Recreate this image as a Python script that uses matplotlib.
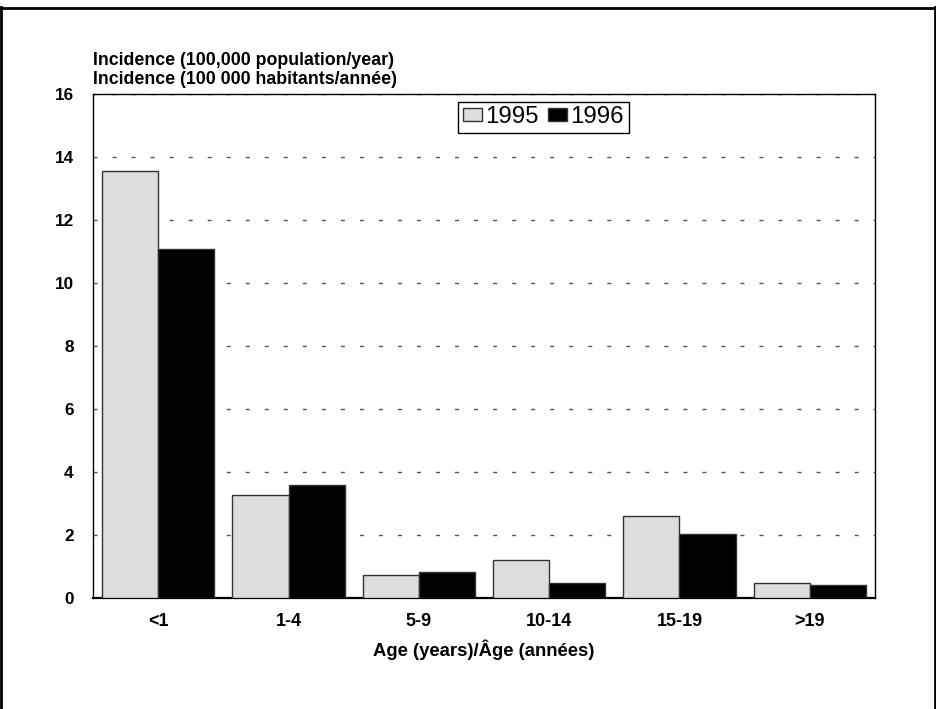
import numpy as np
import matplotlib
matplotlib.use('Agg')
import matplotlib.pyplot as plt
from matplotlib.lines import Line2D

plt.rcParams['font.family'] = ['Liberation Sans', 'DejaVu Sans']

# data
ages = ['<1', '1-4', '5-9', '10-14', '15-19', '>19']
inc_1995 = [13.55, 3.27, 0.73, 1.22, 2.59, 0.47]
inc_1996 = [11.06, 3.58, 0.82, 0.49, 2.03, 0.41]
y_ticks = [0, 2, 4, 6, 8, 10, 12, 14, 16]

fig = plt.figure(figsize=(9.37, 7.09), dpi=100)
ax = fig.add_axes([0.0993, 0.1566, 0.8345, 0.7115])

x = np.arange(len(ages))
w = 0.43
ax.bar(x - w / 2, inc_1995, w, color='#dddddd', edgecolor='#333333', linewidth=1, label='1995', zorder=3)
ax.bar(x + w / 2, inc_1996, w, color='black', edgecolor='#333333', linewidth=1, label='1996', zorder=3)

ax.set_xlim(-0.5, len(ages) - 0.5)
ax.set_ylim(0, 16)
ax.set_yticks(y_ticks)
ax.set_xticks(x)
ax.set_xticklabels(ages)
ax.tick_params(axis='both', length=0)
ax.tick_params(axis='y', pad=14, labelsize=12.3)
ax.tick_params(axis='x', pad=11, labelsize=13)
for lab in ax.get_xticklabels() + ax.get_yticklabels():
    lab.set_fontweight('bold')

ax.yaxis.grid(True, color='#555555', linewidth=1, linestyle=(0, (2.9, 10.8)), zorder=0)
ax.set_axisbelow(True)
for s in ax.spines.values():
    s.set_linewidth(1)
ax.spines['bottom'].set_linewidth(1.6)

ax.set_xlabel('Age (years)/Âge (années)', fontsize=13.3, fontweight='bold', labelpad=7)
fig.text(0.0993, 1 - 87.5 / 709, 'Incidence (100,000 population/year)\nIncidence (100 000 habitants/année)',
         fontsize=12.8, fontweight='bold', ha='left', va='bottom', linespacing=1.15)

leg = ax.legend(loc='upper center', bbox_to_anchor=(0.576, 0.984), ncol=2, fontsize=17.3,
                frameon=True, fancybox=False, framealpha=1, edgecolor='black',
                handlelength=0.8, handleheight=0.45, handletextpad=0.12, columnspacing=0.4,
                borderpad=0.2, borderaxespad=0)
leg.get_frame().set_linewidth(1)

# frame around the figure
fig.add_artist(Line2D([0, 1], [0.9894, 0.9894], transform=fig.transFigure, color='black', lw=2))
fig.add_artist(Line2D([0.0015, 0.0015], [0, 0.99], transform=fig.transFigure, color='black', lw=2))
fig.add_artist(Line2D([0.998, 0.998], [0, 0.99], transform=fig.transFigure, color='black', lw=2))

fig.savefig('out.png', dpi=100)
